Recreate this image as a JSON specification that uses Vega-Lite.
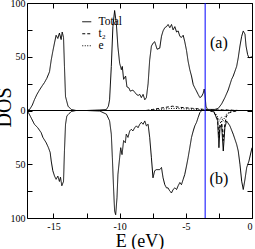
{
  "$schema": "https://vega.github.io/schema/vega-lite/v6.json",
  "width": 225,
  "height": 215,
  "autosize": "none",
  "padding": {"left": 27, "top": 3, "right": 3, "bottom": 31},
  "background": "white",
  "config": {
    "view": {"stroke": "black", "strokeWidth": 1},
    "font": "Liberation Serif",
    "axis": {
      "grid": false,
      "domain": false,
      "tickColor": "black",
      "tickSize": -5,
      "labelColor": "black",
      "labelFont": "Liberation Serif",
      "labelFontSize": 10,
      "titleFont": "Liberation Serif",
      "titleFontWeight": "normal",
      "titleColor": "black",
      "titleFontSize": 18
    }
  },
  "datasets": {
    "dos": [
      {"E": -17.0, "D": 0, "s": "Total", "p": "a"},
      {"E": -16.8, "D": 1, "s": "Total", "p": "a"},
      {"E": -16.6, "D": 5, "s": "Total", "p": "a"},
      {"E": -16.44, "D": 10, "s": "Total", "p": "a"},
      {"E": -16.25, "D": 15, "s": "Total", "p": "a"},
      {"E": -16.06, "D": 19, "s": "Total", "p": "a"},
      {"E": -15.85, "D": 23, "s": "Total", "p": "a"},
      {"E": -15.68, "D": 26, "s": "Total", "p": "a"},
      {"E": -15.5, "D": 30, "s": "Total", "p": "a"},
      {"E": -15.3, "D": 36, "s": "Total", "p": "a"},
      {"E": -15.17, "D": 47, "s": "Total", "p": "a"},
      {"E": -15.05, "D": 55, "s": "Total", "p": "a"},
      {"E": -14.92, "D": 63, "s": "Total", "p": "a"},
      {"E": -14.8, "D": 70, "s": "Total", "p": "a"},
      {"E": -14.67, "D": 67, "s": "Total", "p": "a"},
      {"E": -14.55, "D": 72, "s": "Total", "p": "a"},
      {"E": -14.42, "D": 66, "s": "Total", "p": "a"},
      {"E": -14.34, "D": 73, "s": "Total", "p": "a"},
      {"E": -14.24, "D": 68, "s": "Total", "p": "a"},
      {"E": -14.17, "D": 41, "s": "Total", "p": "a"},
      {"E": -14.09, "D": 13, "s": "Total", "p": "a"},
      {"E": -13.9, "D": 4, "s": "Total", "p": "a"},
      {"E": -13.66, "D": 1, "s": "Total", "p": "a"},
      {"E": -13.3, "D": 0, "s": "Total", "p": "a"},
      {"E": -12.5, "D": 0, "s": "Total", "p": "a"},
      {"E": -11.5, "D": 0.5, "s": "Total", "p": "a"},
      {"E": -11.0, "D": 1, "s": "Total", "p": "a"},
      {"E": -10.85, "D": 4, "s": "Total", "p": "a"},
      {"E": -10.76, "D": 10, "s": "Total", "p": "a"},
      {"E": -10.63, "D": 41, "s": "Total", "p": "a"},
      {"E": -10.51, "D": 78, "s": "Total", "p": "a"},
      {"E": -10.38, "D": 93, "s": "Total", "p": "a"},
      {"E": -10.25, "D": 81, "s": "Total", "p": "a"},
      {"E": -10.13, "D": 59, "s": "Total", "p": "a"},
      {"E": -10.0, "D": 44, "s": "Total", "p": "a"},
      {"E": -9.87, "D": 38, "s": "Total", "p": "a"},
      {"E": -9.8, "D": 41, "s": "Total", "p": "a"},
      {"E": -9.7, "D": 29, "s": "Total", "p": "a"},
      {"E": -9.55, "D": 32, "s": "Total", "p": "a"},
      {"E": -9.45, "D": 22, "s": "Total", "p": "a"},
      {"E": -9.3, "D": 21, "s": "Total", "p": "a"},
      {"E": -9.2, "D": 18, "s": "Total", "p": "a"},
      {"E": -9.0, "D": 19, "s": "Total", "p": "a"},
      {"E": -8.86, "D": 17, "s": "Total", "p": "a"},
      {"E": -8.73, "D": 15, "s": "Total", "p": "a"},
      {"E": -8.6, "D": 14, "s": "Total", "p": "a"},
      {"E": -8.48, "D": 15, "s": "Total", "p": "a"},
      {"E": -8.36, "D": 12, "s": "Total", "p": "a"},
      {"E": -8.23, "D": 15, "s": "Total", "p": "a"},
      {"E": -8.1, "D": 10, "s": "Total", "p": "a"},
      {"E": -7.98, "D": 12, "s": "Total", "p": "a"},
      {"E": -7.85, "D": 25, "s": "Total", "p": "a"},
      {"E": -7.73, "D": 47, "s": "Total", "p": "a"},
      {"E": -7.6, "D": 60, "s": "Total", "p": "a"},
      {"E": -7.45, "D": 63, "s": "Total", "p": "a"},
      {"E": -7.35, "D": 64, "s": "Total", "p": "a"},
      {"E": -7.17, "D": 57, "s": "Total", "p": "a"},
      {"E": -6.97, "D": 58, "s": "Total", "p": "a"},
      {"E": -6.84, "D": 69, "s": "Total", "p": "a"},
      {"E": -6.72, "D": 74, "s": "Total", "p": "a"},
      {"E": -6.59, "D": 77, "s": "Total", "p": "a"},
      {"E": -6.46, "D": 78, "s": "Total", "p": "a"},
      {"E": -6.34, "D": 80, "s": "Total", "p": "a"},
      {"E": -6.21, "D": 77, "s": "Total", "p": "a"},
      {"E": -6.08, "D": 80, "s": "Total", "p": "a"},
      {"E": -5.96, "D": 75, "s": "Total", "p": "a"},
      {"E": -5.83, "D": 78, "s": "Total", "p": "a"},
      {"E": -5.7, "D": 73, "s": "Total", "p": "a"},
      {"E": -5.58, "D": 74, "s": "Total", "p": "a"},
      {"E": -5.45, "D": 69, "s": "Total", "p": "a"},
      {"E": -5.33, "D": 68, "s": "Total", "p": "a"},
      {"E": -5.2, "D": 70, "s": "Total", "p": "a"},
      {"E": -5.08, "D": 64, "s": "Total", "p": "a"},
      {"E": -4.95, "D": 56, "s": "Total", "p": "a"},
      {"E": -4.83, "D": 46, "s": "Total", "p": "a"},
      {"E": -4.7, "D": 38, "s": "Total", "p": "a"},
      {"E": -4.57, "D": 32, "s": "Total", "p": "a"},
      {"E": -4.44, "D": 24, "s": "Total", "p": "a"},
      {"E": -4.32, "D": 21, "s": "Total", "p": "a"},
      {"E": -4.19, "D": 18, "s": "Total", "p": "a"},
      {"E": -4.07, "D": 15, "s": "Total", "p": "a"},
      {"E": -3.94, "D": 12, "s": "Total", "p": "a"},
      {"E": -3.81, "D": 13, "s": "Total", "p": "a"},
      {"E": -3.69, "D": 16, "s": "Total", "p": "a"},
      {"E": -3.61, "D": 20, "s": "Total", "p": "a"},
      {"E": -3.56, "D": 16, "s": "Total", "p": "a"},
      {"E": -3.48, "D": 4, "s": "Total", "p": "a"},
      {"E": -3.36, "D": 1, "s": "Total", "p": "a"},
      {"E": -3.05, "D": 1, "s": "Total", "p": "a"},
      {"E": -2.8, "D": 1, "s": "Total", "p": "a"},
      {"E": -2.55, "D": 2, "s": "Total", "p": "a"},
      {"E": -2.3, "D": 6, "s": "Total", "p": "a"},
      {"E": -2.05, "D": 12, "s": "Total", "p": "a"},
      {"E": -1.8, "D": 19, "s": "Total", "p": "a"},
      {"E": -1.54, "D": 29, "s": "Total", "p": "a"},
      {"E": -1.42, "D": 32, "s": "Total", "p": "a"},
      {"E": -1.16, "D": 41, "s": "Total", "p": "a"},
      {"E": -1.04, "D": 49, "s": "Total", "p": "a"},
      {"E": -0.91, "D": 60, "s": "Total", "p": "a"},
      {"E": -0.78, "D": 69, "s": "Total", "p": "a"},
      {"E": -0.66, "D": 74, "s": "Total", "p": "a"},
      {"E": -0.53, "D": 71, "s": "Total", "p": "a"},
      {"E": -0.45, "D": 60, "s": "Total", "p": "a"},
      {"E": -0.33, "D": 52, "s": "Total", "p": "a"},
      {"E": -0.23, "D": 49, "s": "Total", "p": "a"},
      {"E": 0.0, "D": 50, "s": "Total", "p": "a"},

      {"E": -17.0, "D": 0, "s": "Total", "p": "b"},
      {"E": -16.85, "D": -3, "s": "Total", "p": "b"},
      {"E": -16.7, "D": -6.5, "s": "Total", "p": "b"},
      {"E": -16.44, "D": -12.8, "s": "Total", "p": "b"},
      {"E": -16.19, "D": -16, "s": "Total", "p": "b"},
      {"E": -15.93, "D": -20.6, "s": "Total", "p": "b"},
      {"E": -15.8, "D": -25, "s": "Total", "p": "b"},
      {"E": -15.55, "D": -30, "s": "Total", "p": "b"},
      {"E": -15.38, "D": -34.6, "s": "Total", "p": "b"},
      {"E": -15.25, "D": -39, "s": "Total", "p": "b"},
      {"E": -15.17, "D": -47, "s": "Total", "p": "b"},
      {"E": -15.05, "D": -56, "s": "Total", "p": "b"},
      {"E": -14.92, "D": -61, "s": "Total", "p": "b"},
      {"E": -14.8, "D": -64, "s": "Total", "p": "b"},
      {"E": -14.67, "D": -61, "s": "Total", "p": "b"},
      {"E": -14.55, "D": -66, "s": "Total", "p": "b"},
      {"E": -14.47, "D": -62, "s": "Total", "p": "b"},
      {"E": -14.37, "D": -70, "s": "Total", "p": "b"},
      {"E": -14.24, "D": -66, "s": "Total", "p": "b"},
      {"E": -14.17, "D": -37.5, "s": "Total", "p": "b"},
      {"E": -14.09, "D": -13, "s": "Total", "p": "b"},
      {"E": -13.99, "D": -5, "s": "Total", "p": "b"},
      {"E": -13.66, "D": -1, "s": "Total", "p": "b"},
      {"E": -13.3, "D": 0, "s": "Total", "p": "b"},
      {"E": -12.5, "D": 0, "s": "Total", "p": "b"},
      {"E": -11.5, "D": -0.5, "s": "Total", "p": "b"},
      {"E": -11.0, "D": -3.4, "s": "Total", "p": "b"},
      {"E": -10.76, "D": -9.6, "s": "Total", "p": "b"},
      {"E": -10.63, "D": -22, "s": "Total", "p": "b"},
      {"E": -10.55, "D": -44, "s": "Total", "p": "b"},
      {"E": -10.45, "D": -75, "s": "Total", "p": "b"},
      {"E": -10.38, "D": -93.5, "s": "Total", "p": "b"},
      {"E": -10.3, "D": -97, "s": "Total", "p": "b"},
      {"E": -10.2, "D": -81, "s": "Total", "p": "b"},
      {"E": -10.13, "D": -59.5, "s": "Total", "p": "b"},
      {"E": -10.0, "D": -44, "s": "Total", "p": "b"},
      {"E": -9.92, "D": -34.6, "s": "Total", "p": "b"},
      {"E": -9.82, "D": -41, "s": "Total", "p": "b"},
      {"E": -9.7, "D": -28, "s": "Total", "p": "b"},
      {"E": -9.57, "D": -30, "s": "Total", "p": "b"},
      {"E": -9.5, "D": -22, "s": "Total", "p": "b"},
      {"E": -9.37, "D": -25, "s": "Total", "p": "b"},
      {"E": -9.24, "D": -19, "s": "Total", "p": "b"},
      {"E": -9.12, "D": -17.5, "s": "Total", "p": "b"},
      {"E": -9.0, "D": -19, "s": "Total", "p": "b"},
      {"E": -8.86, "D": -16, "s": "Total", "p": "b"},
      {"E": -8.73, "D": -14.3, "s": "Total", "p": "b"},
      {"E": -8.61, "D": -16, "s": "Total", "p": "b"},
      {"E": -8.48, "D": -12.8, "s": "Total", "p": "b"},
      {"E": -8.36, "D": -11, "s": "Total", "p": "b"},
      {"E": -8.23, "D": -12.8, "s": "Total", "p": "b"},
      {"E": -8.1, "D": -9.7, "s": "Total", "p": "b"},
      {"E": -7.98, "D": -14.3, "s": "Total", "p": "b"},
      {"E": -7.85, "D": -12.8, "s": "Total", "p": "b"},
      {"E": -7.73, "D": -25, "s": "Total", "p": "b"},
      {"E": -7.6, "D": -44, "s": "Total", "p": "b"},
      {"E": -7.48, "D": -62.6, "s": "Total", "p": "b"},
      {"E": -7.35, "D": -56, "s": "Total", "p": "b"},
      {"E": -7.22, "D": -55, "s": "Total", "p": "b"},
      {"E": -6.97, "D": -55, "s": "Total", "p": "b"},
      {"E": -6.84, "D": -53, "s": "Total", "p": "b"},
      {"E": -6.72, "D": -62.6, "s": "Total", "p": "b"},
      {"E": -6.59, "D": -69, "s": "Total", "p": "b"},
      {"E": -6.46, "D": -72, "s": "Total", "p": "b"},
      {"E": -6.34, "D": -72, "s": "Total", "p": "b"},
      {"E": -6.21, "D": -75, "s": "Total", "p": "b"},
      {"E": -6.08, "D": -76.6, "s": "Total", "p": "b"},
      {"E": -5.96, "D": -73.5, "s": "Total", "p": "b"},
      {"E": -5.83, "D": -72, "s": "Total", "p": "b"},
      {"E": -5.7, "D": -73.5, "s": "Total", "p": "b"},
      {"E": -5.58, "D": -70, "s": "Total", "p": "b"},
      {"E": -5.45, "D": -67, "s": "Total", "p": "b"},
      {"E": -5.33, "D": -69, "s": "Total", "p": "b"},
      {"E": -5.2, "D": -64, "s": "Total", "p": "b"},
      {"E": -5.08, "D": -59.5, "s": "Total", "p": "b"},
      {"E": -4.95, "D": -51.7, "s": "Total", "p": "b"},
      {"E": -4.83, "D": -44, "s": "Total", "p": "b"},
      {"E": -4.7, "D": -34.6, "s": "Total", "p": "b"},
      {"E": -4.57, "D": -25, "s": "Total", "p": "b"},
      {"E": -4.44, "D": -19, "s": "Total", "p": "b"},
      {"E": -4.32, "D": -14.3, "s": "Total", "p": "b"},
      {"E": -4.19, "D": -11, "s": "Total", "p": "b"},
      {"E": -4.07, "D": -6.5, "s": "Total", "p": "b"},
      {"E": -3.94, "D": -2, "s": "Total", "p": "b"},
      {"E": -3.8, "D": 0, "s": "Total", "p": "b"},
      {"E": -3.2, "D": 0, "s": "Total", "p": "b"},
      {"E": -2.9, "D": -1, "s": "Total", "p": "b"},
      {"E": -2.8, "D": -3.4, "s": "Total", "p": "b"},
      {"E": -2.6, "D": -9.6, "s": "Total", "p": "b"},
      {"E": -2.5, "D": -34.6, "s": "Total", "p": "b"},
      {"E": -2.42, "D": -16, "s": "Total", "p": "b"},
      {"E": -2.3, "D": -12.8, "s": "Total", "p": "b"},
      {"E": -2.17, "D": -37.7, "s": "Total", "p": "b"},
      {"E": -2.05, "D": -16, "s": "Total", "p": "b"},
      {"E": -1.92, "D": -9.7, "s": "Total", "p": "b"},
      {"E": -1.67, "D": -14.3, "s": "Total", "p": "b"},
      {"E": -1.42, "D": -22, "s": "Total", "p": "b"},
      {"E": -1.16, "D": -31.5, "s": "Total", "p": "b"},
      {"E": -1.04, "D": -37.7, "s": "Total", "p": "b"},
      {"E": -0.91, "D": -50, "s": "Total", "p": "b"},
      {"E": -0.78, "D": -65.7, "s": "Total", "p": "b"},
      {"E": -0.66, "D": -73.5, "s": "Total", "p": "b"},
      {"E": -0.53, "D": -64, "s": "Total", "p": "b"},
      {"E": -0.4, "D": -53, "s": "Total", "p": "b"},
      {"E": -0.23, "D": -47, "s": "Total", "p": "b"},
      {"E": 0.0, "D": -34.6, "s": "Total", "p": "b"},

      {"E": -8.0, "D": 0, "s": "t₂", "p": "a"},
      {"E": -7.5, "D": 1, "s": "t₂", "p": "a"},
      {"E": -7.0, "D": 2, "s": "t₂", "p": "a"},
      {"E": -6.5, "D": 3, "s": "t₂", "p": "a"},
      {"E": -6.0, "D": 4, "s": "t₂", "p": "a"},
      {"E": -5.5, "D": 3, "s": "t₂", "p": "a"},
      {"E": -5.0, "D": 2.5, "s": "t₂", "p": "a"},
      {"E": -4.5, "D": 2, "s": "t₂", "p": "a"},
      {"E": -4.0, "D": 1.5, "s": "t₂", "p": "a"},
      {"E": -3.6, "D": 1, "s": "t₂", "p": "a"},
      {"E": -3.3, "D": 0.5, "s": "t₂", "p": "a"},
      {"E": -2.0, "D": 0.5, "s": "t₂", "p": "a"},
      {"E": -1.0, "D": 0, "s": "t₂", "p": "a"},

      {"E": -8.0, "D": 0, "s": "e", "p": "a"},
      {"E": -7.0, "D": 1, "s": "e", "p": "a"},
      {"E": -6.0, "D": 2, "s": "e", "p": "a"},
      {"E": -5.0, "D": 1.5, "s": "e", "p": "a"},
      {"E": -4.0, "D": 1, "s": "e", "p": "a"},
      {"E": -3.5, "D": 0.5, "s": "e", "p": "a"},
      {"E": -2.0, "D": 0.3, "s": "e", "p": "a"},
      {"E": -1.0, "D": 0, "s": "e", "p": "a"},

      {"E": -3.2, "D": 0, "s": "t₂", "p": "b"},
      {"E": -3.0, "D": -1, "s": "t₂", "p": "b"},
      {"E": -2.8, "D": -3, "s": "t₂", "p": "b"},
      {"E": -2.6, "D": -8, "s": "t₂", "p": "b"},
      {"E": -2.5, "D": -25, "s": "t₂", "p": "b"},
      {"E": -2.42, "D": -12, "s": "t₂", "p": "b"},
      {"E": -2.3, "D": -10, "s": "t₂", "p": "b"},
      {"E": -2.17, "D": -28, "s": "t₂", "p": "b"},
      {"E": -2.05, "D": -12, "s": "t₂", "p": "b"},
      {"E": -1.92, "D": -5, "s": "t₂", "p": "b"},
      {"E": -1.7, "D": -2, "s": "t₂", "p": "b"},
      {"E": -1.4, "D": -1, "s": "t₂", "p": "b"},
      {"E": -1.0, "D": 0, "s": "t₂", "p": "b"},

      {"E": -3.0, "D": 0, "s": "e", "p": "b"},
      {"E": -2.8, "D": -2, "s": "e", "p": "b"},
      {"E": -2.6, "D": -6, "s": "e", "p": "b"},
      {"E": -2.5, "D": -10, "s": "e", "p": "b"},
      {"E": -2.4, "D": -8, "s": "e", "p": "b"},
      {"E": -2.3, "D": -6, "s": "e", "p": "b"},
      {"E": -2.2, "D": -10, "s": "e", "p": "b"},
      {"E": -2.05, "D": -6, "s": "e", "p": "b"},
      {"E": -1.9, "D": -3, "s": "e", "p": "b"},
      {"E": -1.6, "D": -1, "s": "e", "p": "b"},
      {"E": -1.2, "D": 0, "s": "e", "p": "b"}
    ],
    "labels": [
      {"E": -2.5, "D": 63, "t": "(a)"},
      {"E": -2.5, "D": -63.5, "t": "(b)"}
    ],
    "refs": [
      {"E0": -17, "E1": 0, "D": 0}
    ],
    "fermi": [
      {"E": -3.54, "D0": -100, "D1": 100}
    ]
  },
  "resolve": {"axis": {"x": "independent", "y": "independent"}},
  "layer": [
    {
      "data": {"name": "dos"},
      "mark": {"type": "line", "strokeWidth": 1, "color": "black", "clip": true},
      "encoding": {
        "x": {
          "field": "E", "type": "quantitative",
          "scale": {"domain": [-17, 0], "nice": false, "zero": false},
          "axis": {
            "orient": "bottom",
            "values": [-15, -12.5, -10, -7.5, -5, -2.5, 0],
            "labelExpr": "datum.value % 5 == 0 ? '' + datum.value : ''",
            "labelPadding": 8,
            "title": "E (eV)",
            "titlePadding": 1
          }
        },
        "y": {
          "field": "D", "type": "quantitative",
          "scale": {"domain": [-100, 100], "nice": false},
          "axis": {
            "orient": "left",
            "values": [-100, -75, -50, -25, 0, 25, 50, 75, 100],
            "labelExpr": "datum.value % 50 == 0 ? '' + abs(datum.value) : ''",
            "labelPadding": 7,
            "title": "DOS",
            "titleFontSize": 20,
            "titlePadding": -4,
            "titleY": 104
          }
        },
        "strokeDash": {
          "field": "s", "type": "nominal",
          "scale": {"domain": ["Total", "t₂", "e"], "range": [[1, 0], [3, 2], [1, 1.5]]},
          "legend": {
            "title": null,
            "orient": "none",
            "legendX": 54,
            "legendY": 13,
            "symbolType": "stroke",
            "symbolSize": 81,
            "symbolStrokeWidth": 1,
            "symbolStrokeColor": "black",
            "labelFont": "Liberation Serif",
            "labelFontSize": 11.5,
            "labelColor": "black",
            "labelOffset": 6,
            "rowPadding": -2
          }
        },
        "detail": {"field": "p"}
      }
    },
    {
      "data": {"name": "refs"},
      "mark": {"type": "rule", "color": "black", "strokeWidth": 1},
      "encoding": {
        "x": {"field": "E0", "type": "quantitative", "axis": null},
        "x2": {"field": "E1"},
        "y": {"field": "D", "type": "quantitative", "axis": null}
      }
    },
    {
      "data": {"name": "fermi"},
      "mark": {"type": "rule", "color": "#0000ff", "strokeWidth": 1},
      "encoding": {
        "x": {"field": "E", "type": "quantitative", "axis": null},
        "y": {"field": "D0", "type": "quantitative", "axis": null},
        "y2": {"field": "D1"}
      }
    },
    {
      "data": {"name": "labels"},
      "mark": {"type": "text", "font": "Liberation Serif", "fontSize": 16, "color": "black"},
      "encoding": {
        "x": {
          "field": "E", "type": "quantitative",
          "axis": {"orient": "top", "values": [-15, -12.5, -10, -7.5, -5, -2.5, 0], "labels": false, "title": null}
        },
        "y": {
          "field": "D", "type": "quantitative",
          "axis": {"orient": "right", "values": [-100, -75, -50, -25, 0, 25, 50, 75, 100], "labels": false, "title": null}
        },
        "text": {"field": "t"}
      }
    }
  ]
}
